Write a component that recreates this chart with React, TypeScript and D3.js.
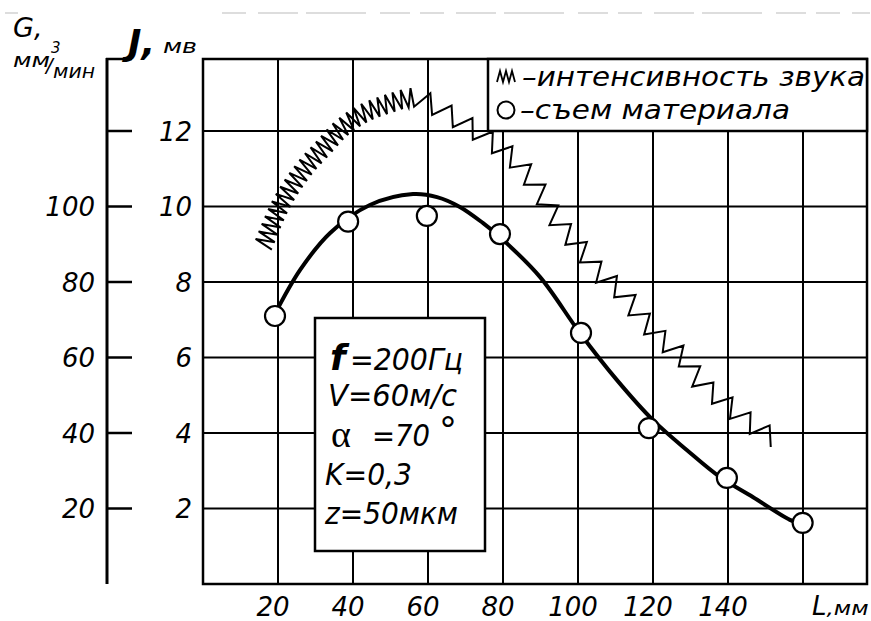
import React, { useLayoutEffect, useRef, useState } from "react";
import * as d3 from "d3";

// ---------- data ----------
const L_TICKS = [20, 40, 60, 80, 100, 120, 140];
const GRID_L = [20, 40, 60, 80, 100, 120, 140, 160];
const J_TICKS = [2, 4, 6, 8, 10, 12];
const G_TICKS = [20, 40, 60, 80, 100];
const G_MARKS = [20, 40, 60, 80, 100, 120];

// material removal G (mm^3/min) – measured points
const removalL = [19.2, 38.7, 59.7, 79.2, 100.8, 118.9, 139.7, 159.9];
const removalG = [71, 96, 97.5, 92.7, 66.5, 41.3, 28.1, 16.2];

// smooth approximating curve through removal data
const fitL = [18.9, 25.9, 33.9, 44.5, 56, 62.4, 68.5, 74.7, 79.2, 89.9, 100.5, 110.4, 120, 129, 137.9, 146.7, 156.5, 158.9];
const fitG = [71.0, 83.2, 93.0, 100.4, 103.3, 102.5, 99.9, 95.6, 91.9, 81.3, 66.5, 54.0, 43.4, 35.5, 28.3, 23.0, 17.0, 16.2];

// sound intensity J (mV) – centre line of the zigzag trace
const intL = [16, 21, 27, 32, 37, 43, 50, 55, 58, 64.5, 72, 78.5, 84.5, 90, 95, 101, 106, 111, 117, 122, 128, 133, 138, 144, 149, 155];
const intJ = [8.95, 10.1, 11.0, 11.55, 12.08, 12.48, 12.74, 12.88, 12.85, 12.5, 12.05, 11.6, 11.1, 10.35, 9.55, 8.85, 8.2, 7.8, 7.05, 6.5, 6.0, 5.3, 4.9, 4.4, 4.05, 3.7];

const legendItems = ["–интенсивность звука", "–съем материала"];
const paramLines = ["=200Гц", "V=60м/с", "=70", "K=0,3", "z=50мкм"];

// ---------- layout ----------
const W = 871, H = 621;
const x = d3.scaleLinear().domain([0, 160]).range([203, 803]);
const yJ = d3.scaleLinear().domain([0, 12]).range([584, 131]);
const yG = d3.scaleLinear().domain([0, 120]).range([584, 131]);
const PL = 203, PR = 867, PT = 59, PB = 584;
const FONT = "'DejaVu Sans', sans-serif";

export default function App() {
  const centerRef = useRef<SVGPathElement>(null);
  const [zig, setZig] = useState("");

  const centerPts = intL.map((l, i) => [x(l), yJ(intJ[i])] as [number, number]);
  const centerD = d3.line().curve(d3.curveCatmullRom.alpha(0.5))(centerPts) || "";

  const fitD = d3.line<number>()
    .x((_, i) => x(fitL[i]))
    .y((g) => yG(g))
    .curve(d3.curveCatmullRom.alpha(0.5))(fitG) || "";

  useLayoutEffect(() => {
    const p = centerRef.current;
    if (!p) return;
    const total = p.getTotalLength();
    const pts: [number, number][] = [];
    let s = 0;
    let side = 1;
    while (s <= total) {
      const pt = p.getPointAtLength(s);
      const a = p.getPointAtLength(Math.max(0, s - 1));
      const b = p.getPointAtLength(Math.min(total, s + 1));
      let dx = b.x - a.x, dy = b.y - a.y;
      const n = Math.hypot(dx, dy) || 1;
      dx /= n; dy /= n;
      const px = -dy, py = dx;
      const dense = x.invert(pt.x) < 56;
      const A = dense ? 9.5 : 9;
      const h = dense ? 4 : 12;
      pts.push([pt.x + side * A * px, pt.y + side * A * py]);
      side = -side;
      s += h;
    }
    setZig(d3.line()(pts) || "");
  }, [centerD]);

  const italic = { fontFamily: FONT, fontStyle: "italic" as const };

  return (
    <svg width={W} height={H} style={{ position: "absolute", left: 0, top: 0, background: "#fff" }}>
      <rect x={0} y={0} width={W} height={H} fill="#fff" />
      {/* faint scan line at top */}
      <line x1={5} x2={18} y1={13} y2={13} stroke="#bbb" strokeWidth={1} />
      <line x1={222} x2={870} y1={13} y2={13} stroke="#bbb" strokeWidth={1} strokeDasharray="24 12 40 8 60 14 30 10" />

      {/* G axis */}
      <line x1={107} x2={107} y1={PT - 1} y2={PB} stroke="#000" strokeWidth={3} />
      <line x1={106} x2={132} y1={PT} y2={PT} stroke="#000" strokeWidth={2.5} />
      {G_MARKS.map((g) => (
        <line key={"gt" + g} x1={107} x2={132} y1={yG(g)} y2={yG(g)} stroke="#000" strokeWidth={2.5} />
      ))}
      {G_TICKS.map((g) => (
        <text key={"gl" + g} x={95} y={yG(g) + 9.5} textAnchor="end" fontSize={26} {...italic}>{g}</text>
      ))}

      {/* J tick labels */}
      {J_TICKS.map((j) => (
        <text key={"jl" + j} x={192} y={yJ(j) + 9.5} textAnchor="end" fontSize={26} {...italic}>{j}</text>
      ))}

      {/* axis titles */}
      <text x={13} y={37} fontSize={27} {...italic}>G,</text>
      <text x={13} y={67} fontSize={19} {...italic}>
        <tspan textLength={37} lengthAdjust="spacingAndGlyphs">мм</tspan>
        <tspan x={51} y={53} fontSize={15}>3</tspan>
        <tspan x={46} y={72} fontSize={20}>/</tspan>
        <tspan x={53} y={78} textLength={42} lengthAdjust="spacingAndGlyphs">мин</tspan>
      </text>
      <text x={128} y={55} fontSize={36} fontWeight="bold" {...italic}>J,</text>
      <text x={163} y={53} fontSize={19} textLength={34} lengthAdjust="spacingAndGlyphs" {...italic}>мв</text>

      {/* grid */}
      {GRID_L.map((l) => (
        <line key={"vg" + l} x1={x(l)} x2={x(l)} y1={PT} y2={PB} stroke="#000" strokeWidth={2} />
      ))}
      {J_TICKS.map((j) => (
        <line key={"hg" + j} x1={PL} x2={PR} y1={yJ(j)} y2={yJ(j)} stroke="#000" strokeWidth={2} />
      ))}
      <rect x={PL} y={PT} width={PR - PL} height={PB - PT} fill="none" stroke="#000" strokeWidth={2.5} />

      {/* L tick labels */}
      {L_TICKS.map((l) => (
        <text key={"ll" + l} x={x(l) - 5} y={616} textAnchor="middle" fontSize={26} {...italic}>{l}</text>
      ))}
      <text x={812} y={615} fontSize={26} {...italic}>
        L<tspan fontSize={19} textLength={42} lengthAdjust="spacingAndGlyphs">,мм</tspan>
      </text>

      {/* parameter box */}
      <rect x={315} y={318} width={170} height={233} fill="#fff" stroke="#000" strokeWidth={2.5} />
      <text x={330} y={370} fontSize={36} fontWeight="bold" {...italic}>f</text>
      <text x={350} y={370} fontSize={30} textLength={113} lengthAdjust="spacingAndGlyphs" {...italic}>{paramLines[0]}</text>
      <text x={328} y={406} fontSize={30} textLength={129} lengthAdjust="spacingAndGlyphs" {...italic}>{paramLines[1]}</text>
      <text x={331} y={447} fontSize={38} fontFamily="'Liberation Serif', serif">α</text>
      <text x={372} y={446} fontSize={30} textLength={58} lengthAdjust="spacingAndGlyphs" {...italic}>{paramLines[2]}</text>
      <text x={439} y={442} fontSize={36} fontFamily={FONT}>°</text>
      <text x={325} y={485} fontSize={30} textLength={87} lengthAdjust="spacingAndGlyphs" {...italic}>{paramLines[3]}</text>
      <text x={325} y={524} fontSize={30} textLength={133} lengthAdjust="spacingAndGlyphs" {...italic}>{paramLines[4]}</text>

      {/* legend */}
      <rect x={488} y={PT} width={PR - 488} height={yJ(12) - PT} fill="#fff" stroke="#000" strokeWidth={2.5} />
      <path d="M497,82 L500,71 L503,82 L506,71 L509,82 L512,71 L515,82" fill="none" stroke="#000" strokeWidth={1.8} />
      <text x={522} y={86} fontSize={27} textLength={343} lengthAdjust="spacingAndGlyphs" {...italic}>{legendItems[0]}</text>
      <circle cx={506} cy={110} r={8.5} fill="#fff" stroke="#000" strokeWidth={2} />
      <text x={520} y={119} fontSize={27} textLength={270} lengthAdjust="spacingAndGlyphs" {...italic}>{legendItems[1]}</text>

      {/* intensity zigzag */}
      <path ref={centerRef} d={centerD} fill="none" stroke="none" />
      <path d={zig} fill="none" stroke="#000" strokeWidth={2} strokeLinejoin="miter" />

      {/* material removal */}
      <path d={fitD} fill="none" stroke="#000" strokeWidth={4} strokeLinecap="round" />
      {removalL.map((l, i) => (
        <circle key={"c" + i} cx={x(l)} cy={yG(removalG[i])} r={10} fill="#fff" stroke="#000" strokeWidth={2.2} />
      ))}
    </svg>
  );
}
